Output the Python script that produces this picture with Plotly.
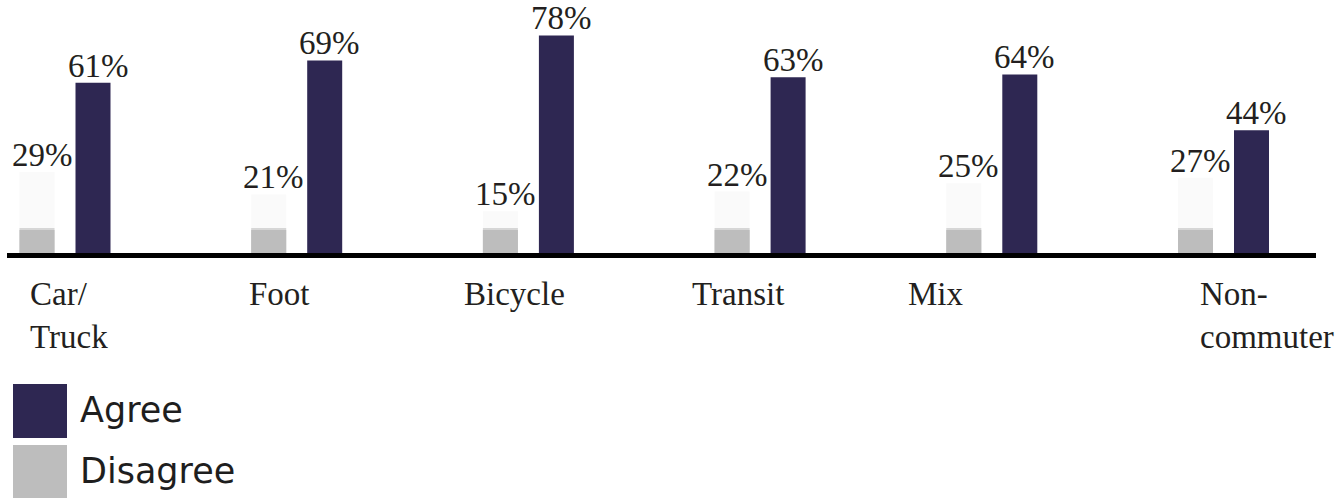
import plotly.graph_objects as go

# Survey answers by commute mode (percent of respondents)
categories = ["Car/Truck", "Foot", "Bicycle", "Transit", "Mix", "Non-commuter"]
tick_labels = ["Car/<br>Truck", "Foot", "Bicycle", "Transit", "Mix", "Non-<br>commuter"]
agree = [61, 69, 78, 63, 64, 44]
disagree = [29, 21, 15, 22, 25, 27]

# ---- styling ----
AGREE_COLOR = "#2e2752"
DISAGREE_COLOR = "#bdbdbd"
DISAGREE_FADE = "#fafafa"
DISAGREE_EDGE = "#d6d6d6"
TEXT_COLOR = "#231f20"
SERIF = "Liberation Serif, Times New Roman, serif"
SANS = "DejaVu Sans, Arial, sans-serif"

W, H = 1340, 498
L, R, T, B = 7, 24, 10, 245
PLOT_W, PLOT_H = W - L - R, H - T - B
PX_PER_PCT = 2.79          # vertical scale
STEP = 231.7               # px between category centres
FIRST_CENTER = 65          # px position of the first category centre
BAR_W = 35                 # px
DIS_OFFSET, AGR_OFFSET = -45.5, 10.5   # px from category centre to bar's left edge
SOLID_PCT, EDGE_PCT = 8.2, 9.0         # solid grey foot of the disagree bars
LABEL_XSHIFT = [-37, -50, -66, -70, -86, -26]
VALUE_XNUDGE = 5           # value labels sit slightly right of bar centre
VALUE_YSHIFT = -3

x0 = -(FIRST_CENTER - L) / STEP
x_range = [x0, x0 + PLOT_W / STEP]
y_range = [0, PLOT_H / PX_PER_PCT]


def px_x(px):
    return (px - L) / PLOT_W


def px_y(py):
    return (T + PLOT_H - py) / PLOT_H


label_font = dict(family=SERIF, size=33, color=TEXT_COLOR)

fig = go.Figure()

# Disagree: pale full-height bar with a solid grey foot
fig.add_trace(go.Bar(
    x=categories, y=disagree, name="Disagree",
    width=BAR_W / STEP, offset=DIS_OFFSET / STEP,
    marker=dict(color=DISAGREE_FADE, line=dict(width=0)),
    showlegend=False,
))
fig.add_trace(go.Bar(
    x=categories, y=[min(v, EDGE_PCT) for v in disagree],
    width=BAR_W / STEP, offset=DIS_OFFSET / STEP,
    marker=dict(color=DISAGREE_EDGE, line=dict(width=0)),
    showlegend=False, hoverinfo="skip",
))
fig.add_trace(go.Bar(
    x=categories, y=[min(v, SOLID_PCT) for v in disagree],
    width=BAR_W / STEP, offset=DIS_OFFSET / STEP,
    marker=dict(color=DISAGREE_COLOR, line=dict(width=0)),
    showlegend=False, hoverinfo="skip",
))

# Agree
fig.add_trace(go.Bar(
    x=categories, y=agree, name="Agree",
    width=BAR_W / STEP, offset=AGR_OFFSET / STEP,
    marker=dict(color=AGREE_COLOR, line=dict(width=0)),
    showlegend=False,
))

annotations = []

# Value labels just above each bar
for series, offset in ((disagree, DIS_OFFSET), (agree, AGR_OFFSET)):
    for cat, v in zip(categories, series):
        annotations.append(dict(
            x=cat, xref="x", y=v, yref="y",
            xanchor="center", yanchor="bottom",
            xshift=offset + BAR_W / 2 + VALUE_XNUDGE, yshift=VALUE_YSHIFT,
            text=f"{v}%", showarrow=False, font=label_font,
        ))

# Category labels under the baseline
for i, lab in enumerate(tick_labels):
    annotations.append(dict(
        x=categories[i], xref="x", y=px_y(274), yref="paper",
        xanchor="left", yanchor="top", align="left", xshift=LABEL_XSHIFT[i],
        text=lab, showarrow=False, font=label_font,
    ))

# Legend drawn as large swatches with labels
shapes = []
legend_items = [("Agree", AGREE_COLOR, 384), ("Disagree", DISAGREE_COLOR, 445)]
for name, color, top in legend_items:
    shapes.append(dict(
        type="rect", xref="paper", yref="paper",
        x0=px_x(13), x1=px_x(67), y0=px_y(top + 54), y1=px_y(top),
        fillcolor=color, line=dict(width=0), layer="above",
    ))
    annotations.append(dict(
        x=px_x(78), xref="paper", y=px_y(top + 26), yref="paper",
        xanchor="left", yanchor="middle", text=name, showarrow=False,
        font=dict(family=SANS, size=35, color="#1e1e1e"),
    ))

fig.update_layout(
    width=W, height=H, autosize=False,
    margin=dict(l=L, r=R, t=T, b=B, pad=0),
    paper_bgcolor="white", plot_bgcolor="white",
    barmode="overlay",
    xaxis=dict(
        type="category", range=x_range, showline=True, linecolor="#000000",
        linewidth=5, showticklabels=False, ticks="", showgrid=False,
        zeroline=False, fixedrange=True,
    ),
    yaxis=dict(range=y_range, visible=False, fixedrange=True),
    shapes=shapes,
    annotations=annotations,
)

fig.write_html("out.html")
